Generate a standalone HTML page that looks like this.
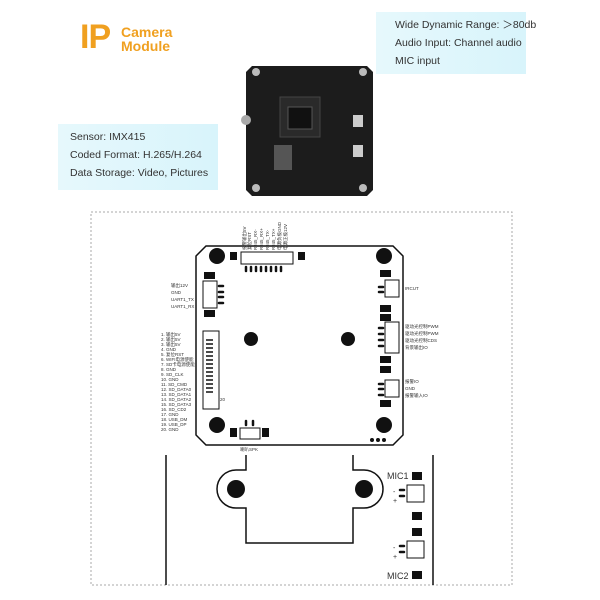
<!DOCTYPE html>
<html><head><style>
body{margin:0;width:600px;height:600px;background:#fff;position:relative;overflow:hidden;font-family:"Liberation Sans","Noto Sans CJK SC",sans-serif}
.p{position:absolute;background:linear-gradient(90deg,#e6f8fc,#d8f4fb);color:#333;font-size:10.5px;line-height:18px;white-space:nowrap}
</style></head><body>
<div style="position:absolute;left:80px;top:18px;font-size:34px;font-weight:bold;color:#f0a020;letter-spacing:-1px">IP</div>
<div style="position:absolute;left:121px;top:25px;font-size:14px;font-weight:bold;color:#f0a020;line-height:14px">Camera<br>Module</div>
<div class="p" style="left:376px;top:12px;width:150px;height:62px;padding:4px 0 0 19px;box-sizing:border-box">Wide Dynamic Range: ＞80db<br>Audio Input: Channel audio<br>MIC input</div>
<div class="p" style="left:58px;top:124px;width:160px;height:66px;padding:4px 0 0 12px;box-sizing:border-box">Sensor: IMX415<br>Coded Format: H.265/H.264<br>Data Storage: Video, Pictures</div>
<svg style="position:absolute;left:0;top:0" width="600" height="600">
<g>
<path d="M252,66 H367 L373,72 V190 L367,196 H252 L246,190 V72Z" fill="#1c1c1c"/>
<circle cx="256" cy="72" r="4" fill="#bbb"/><circle cx="363" cy="72" r="4" fill="#bbb"/>
<circle cx="256" cy="188" r="4" fill="#bbb"/><circle cx="363" cy="188" r="4" fill="#bbb"/>
<circle cx="246" cy="120" r="5" fill="#aaa"/><circle cx="292" cy="120" r="5" fill="#aaa"/>
<rect x="280" y="97" width="40" height="40" fill="#2a2a2a" stroke="#444"/>
<rect x="288" y="107" width="24" height="22" fill="#111" stroke="#555"/>
<rect x="274" y="145" width="18" height="25" fill="#555"/>
<rect x="353" y="115" width="10" height="12" fill="#ccc"/><rect x="353" y="145" width="10" height="12" fill="#ccc"/>
</g>
<rect x="91" y="212" width="421" height="373" fill="none" stroke="#aaa" stroke-dasharray="2,2"/>
<g stroke="#111" stroke-width="1.5" fill="none">
<path d="M206,246 H393 L403,256 V435 L393,445 H206 L196,435 V256Z"/>
<path d="M166,455V585 M433,455V585"/>
<path d="M246,455V470 H236 A19,19 0 0 0 236,508 H246 V543 H353 V508 H364 A19,19 0 0 0 364,470 H353 V455"/>
</g>
<g fill="#111">
<circle cx="217" cy="256" r="8"/><circle cx="384" cy="256" r="8"/><circle cx="217" cy="425" r="8"/><circle cx="384" cy="425" r="8"/>
<circle cx="251" cy="339" r="7"/><circle cx="348" cy="339" r="7"/>
<circle cx="236" cy="489" r="9"/><circle cx="364" cy="489" r="9"/>
<rect x="230" y="252" width="7" height="8"/><rect x="298" y="252" width="7" height="8"/>
<rect x="204" y="272" width="11" height="7"/><rect x="204" y="310" width="11" height="7"/>
<rect x="380" y="270" width="11" height="7"/><rect x="380" y="305" width="11" height="7"/>
<rect x="380" y="314" width="11" height="7"/><rect x="380" y="356" width="11" height="7"/>
<rect x="380" y="366" width="11" height="7"/><rect x="380" y="400" width="11" height="7"/>
<rect x="230" y="428" width="7" height="9"/><rect x="262" y="428" width="7" height="9"/>
<rect x="208" y="335" width="9" height="9"/><rect x="208" y="397" width="9" height="9"/>
<circle cx="372" cy="440" r="2"/><circle cx="378" cy="440" r="2"/><circle cx="384" cy="440" r="2"/>
<rect x="412" y="472" width="10" height="8"/><rect x="412" y="512" width="10" height="8"/>
<rect x="412" y="528" width="10" height="8"/><rect x="412" y="571" width="10" height="8"/>
</g>
<g fill="#fff" stroke="#111" stroke-width="1">
<rect x="241" y="252" width="52" height="12"/>
<rect x="203" y="281" width="14" height="27"/>
<rect x="385" y="280" width="14" height="17"/>
<rect x="385" y="322" width="14" height="31"/>
<rect x="385" y="380" width="14" height="17"/>
<rect x="240" y="428" width="20" height="11"/>
<rect x="203" y="331" width="16" height="78"/>
<rect x="407" y="485" width="17" height="17"/><rect x="407" y="541" width="17" height="17"/>
</g>
<g stroke="#111" stroke-width="2.5" stroke-linecap="round">
<path d="M246,267v4M251,267v4M256,267v4M261,267v4M266,267v4M271,267v4M276,267v4M281,267v4"/>
<path d="M219,286h4M219,292h4M219,297h4M219,303h4"/>
<path d="M379,287h4M379,292h4"/>
<path d="M379,328h4M379,334h4M379,340h4M379,346h4"/>
<path d="M379,384h4M379,389h4M379,395h4"/>
<path d="M246,421v4M253,421v4"/>
<path d="M400,490h4M400,496h4M400,546h4M400,552h4"/>
</g>
<g stroke="#111" stroke-width="1.5"><path d="M206,340h7M206,344h7M206,348h7M206,352h7M206,356h7M206,360h7M206,364h7M206,368h7M206,372h7M206,376h7M206,380h7M206,384h7M206,388h7M206,392h7"/></g>
<g font-size="4.5" fill="#333">
<text x="171" y="287">输出12V</text><text x="171" y="294">GND</text><text x="171" y="301">UART1_TX</text><text x="171" y="308">UART1_RX</text>
<text x="161" y="336">1. 输出5V</text><text x="161" y="341">2. 输出5V</text><text x="161" y="346">3. 输出5V</text><text x="161" y="351">4. GND</text><text x="161" y="356">5. 复位RST</text><text x="161" y="361">6. WIFI电源使能</text><text x="161" y="366">7. SD卡电源使能</text><text x="161" y="371">8. GND</text><text x="161" y="376">9. SD_CLK</text><text x="161" y="381">10. GND</text><text x="161" y="386">11. SD_CMD</text><text x="161" y="391">12. SD_DATA0</text><text x="161" y="396">13. SD_DATA1</text><text x="161" y="401">14. SD_DATA2</text><text x="161" y="406">15. SD_DATA3</text><text x="161" y="411">16. SD_CD2</text><text x="161" y="416">17. GND</text><text x="161" y="421">18. USB_DM</text><text x="161" y="426">19. USB_DP</text><text x="161" y="431">20. GND</text>
<text x="405" y="290">IRCUT</text>
<text x="405" y="328">驱动光控制PWM</text><text x="405" y="335">驱动光控制PWM</text><text x="405" y="342">驱动光控制CDS</text><text x="405" y="349">背景输出IO</text>
<text x="405" y="383">报警IO</text><text x="405" y="390">GND</text><text x="405" y="397">报警输入IO</text>
<text x="240" y="451">喇叭SPK</text><text x="220" y="401">20</text>
</g>
<g font-size="4.5" fill="#333">
<text transform="translate(246,250) rotate(-90)">报警输出5V</text><text transform="translate(251,250) rotate(-90)">复位RST</text><text transform="translate(257,250) rotate(-90)">RJ45_RX-</text><text transform="translate(263,250) rotate(-90)">RJ45_RX+</text><text transform="translate(269,250) rotate(-90)">RJ45_TX-</text><text transform="translate(275,250) rotate(-90)">RJ45_TX+</text><text transform="translate(281,250) rotate(-90)">电源负极GND</text><text transform="translate(287,250) rotate(-90)">电源正极12V</text>
</g>
<g font-size="9" fill="#333"><text x="387" y="479">MIC1</text><text x="387" y="579">MIC2</text><text x="393" y="494" font-size="7">-</text><text x="393" y="503" font-size="7">+</text><text x="393" y="550" font-size="7">-</text><text x="393" y="559" font-size="7">+</text></g>
</svg>
</body></html>
